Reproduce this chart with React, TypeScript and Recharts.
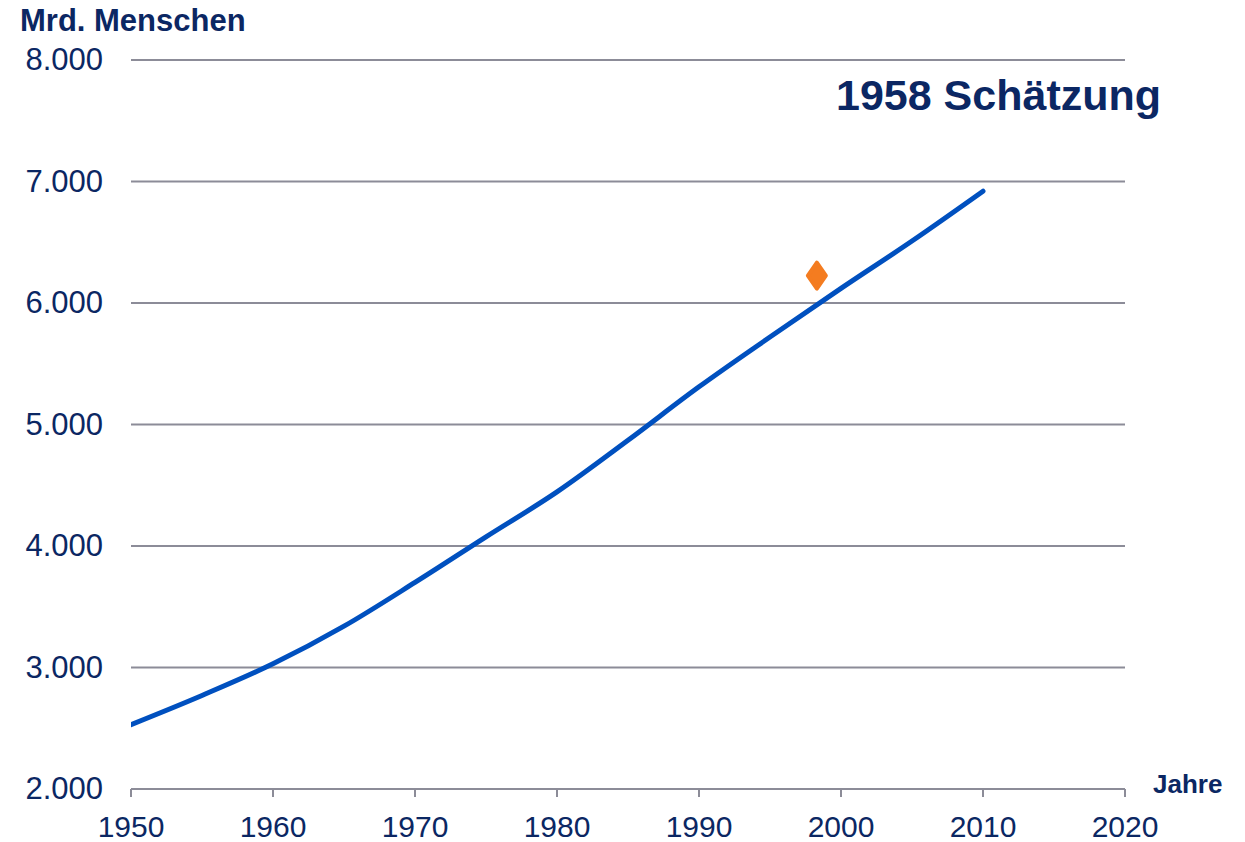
import React from 'react';
import {
  ComposedChart,
  Line,
  Scatter,
  XAxis,
  YAxis,
  CartesianGrid,
} from 'recharts';

// Weltbevölkerung in Mio. (Fünfjahresschritte)
const years = [1950, 1955, 1960, 1965, 1970, 1975, 1980, 1985, 1990, 1995, 2000, 2005, 2010];
const population = [2530, 2770, 3030, 3340, 3700, 4075, 4445, 4870, 5310, 5720, 6120, 6510, 6920];

// Schätzung von 1958
const estimateYear = [1998.3];
const estimateValue = [6225];

const xTicks = [1950, 1960, 1970, 1980, 1990, 2000, 2010, 2020];
const yTicks = [2000, 3000, 4000, 5000, 6000, 7000, 8000];

const popData = years.map((year, i) => ({ year, value: population[i] }));
const estimateData = estimateYear.map((year, i) => ({ year, value: estimateValue[i] }));

const NAVY = '#0b2763';
const GRID = '#8c8c98';
const FONT = '"Liberation Sans", Arial, sans-serif';

const fmt = (v: number) => `${Math.floor(v / 1000)}.${String(v % 1000).padStart(3, '0')}`;

const YTick = (props: any) => {
  const { y, payload } = props;
  return (
    <text
      x={103}
      y={y}
      dy={10}
      textAnchor="end"
      fill={NAVY}
      style={{ fontSize: 31, fontFamily: FONT }}
    >
      {fmt(payload.value)}
    </text>
  );
};

const XTick = (props: any) => {
  const { x, y, payload } = props;
  return (
    <text
      x={x}
      y={y + 38}
      textAnchor="middle"
      fill={NAVY}
      style={{ fontSize: 30, fontFamily: FONT }}
    >
      {payload.value}
    </text>
  );
};

const Diamond = (props: any) => {
  const { cx, cy } = props;
  return (
    <path
      d={`M${cx},${cy - 13} L${cx + 9},${cy} L${cx},${cy + 13} L${cx - 9},${cy} Z`}
      fill="#f47c20"
      stroke="#f47c20"
      strokeWidth={4}
      strokeLinejoin="round"
    />
  );
};

export default function App() {
  return (
    <div style={{ position: 'absolute', left: 0, top: 0, width: 1245, height: 842, background: '#fff' }}>
      <ComposedChart
        width={1245}
        height={842}
        margin={{ top: 60, right: 120, bottom: 8, left: 31 }}
      >
        <CartesianGrid vertical={false} stroke={GRID} strokeWidth={2} />
        <XAxis
          dataKey="year"
          type="number"
          domain={[1950, 2020]}
          ticks={xTicks}
          height={45}
          axisLine={{ stroke: GRID, strokeWidth: 2 }}
          tickLine={{ stroke: GRID, strokeWidth: 2 }}
          tickSize={8}
          tick={<XTick />}
          allowDataOverflow
        />
        <YAxis
          dataKey="value"
          type="number"
          domain={[2000, 8000]}
          ticks={yTicks}
          width={100}
          axisLine={false}
          tickLine={false}
          tick={<YTick />}
        />
        <Line
          data={popData}
          dataKey="value"
          type="monotone"
          stroke="#0050bf"
          strokeWidth={5}
          strokeLinecap="round"
          dot={false}
          activeDot={false}
          isAnimationActive={false}
        />
        <Scatter
          data={estimateData}
          dataKey="value"
          shape={<Diamond />}
          isAnimationActive={false}
        />
      </ComposedChart>
      <svg
        width={1245}
        height={842}
        style={{ position: 'absolute', left: 0, top: 0, pointerEvents: 'none' }}
      >
        <text x={20} y={31} fill={NAVY} style={{ fontSize: 31, fontWeight: 'bold', fontFamily: FONT }}>
          Mrd. Menschen
        </text>
        <text x={836} y={110} fill={NAVY} style={{ fontSize: 43, fontWeight: 'bold', fontFamily: FONT }}>
          1958 Schätzung
        </text>
        <text x={1153} y={793} fill={NAVY} style={{ fontSize: 26, fontWeight: 'bold', fontFamily: FONT }}>
          Jahre
        </text>
      </svg>
    </div>
  );
}
